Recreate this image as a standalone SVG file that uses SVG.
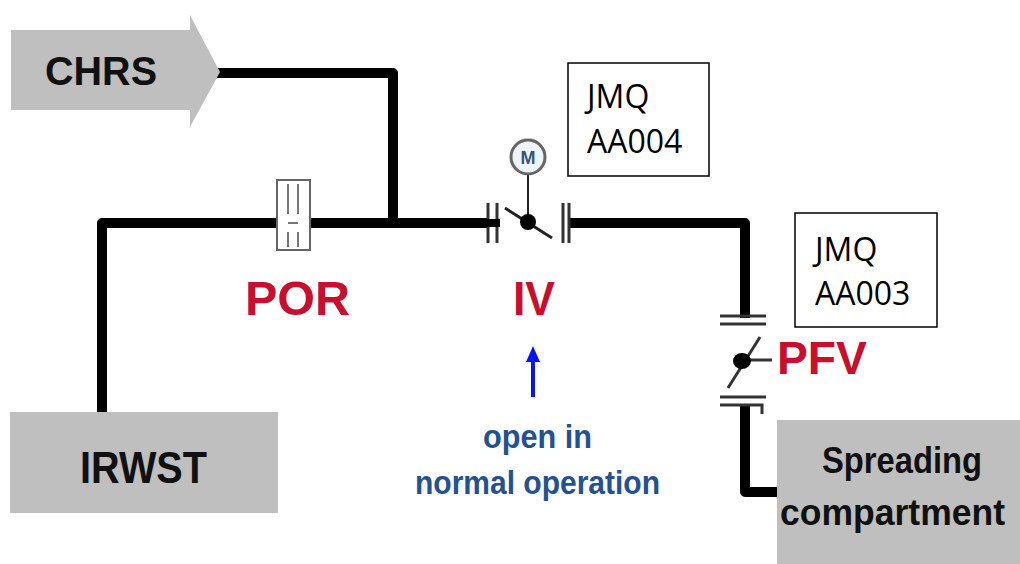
<svg xmlns="http://www.w3.org/2000/svg" width="1020" height="564" viewBox="0 0 1020 564">
<style>
.box{fill:#bfbfbf;}
.pipe{fill:none;stroke:#000;stroke-width:10;stroke-linejoin:round;}
.flange{stroke:#333;stroke-width:3;fill:none;}
.lbl{font-family:"Liberation Sans",Arial,sans-serif;font-weight:bold;fill:#111;}
.red{font-family:"Liberation Sans",Arial,sans-serif;font-weight:bold;fill:#c8102e;}
.note{font-family:"Liberation Sans",Arial,sans-serif;font-weight:bold;fill:#24518f;font-size:33px;}
.tag{font-family:"Open Sans","Liberation Sans",sans-serif;font-size:32px;fill:#000;}
.tagbox{fill:#fff;stroke:#000;stroke-width:1.5;}
</style>
<rect width="1020" height="564" fill="#fff"/>
<g id="connectors">
<path class="pipe" d="M215 73 H393 V223"/>
<path class="pipe" d="M102 412 V223 H487"/>
<path class="pipe" d="M568 223 H745 V318"/>
<path class="pipe" d="M745 405 V492 H780"/>
</g>
<g id="CHRS">
<polygon class="box" points="11,30 190,30 190,15 220,72 190,127 190,110 11,110"/>
<text class="lbl" x="45" y="85" font-size="41" textLength="112" lengthAdjust="spacingAndGlyphs">CHRS</text>
</g>
<g id="IRWST">
<rect class="box" x="10" y="412" width="268" height="101"/>
<text class="lbl" x="80" y="483" font-size="45" textLength="127" lengthAdjust="spacingAndGlyphs">IRWST</text>
</g>
<g id="POR">
<rect x="277" y="180" width="33" height="70" fill="#fff" stroke="#666" stroke-width="2"/>
<path d="M288 184 V214 M288 232 V247 M298 184 V214 M298 232 V247 M288 223 H298" stroke="#777" stroke-width="2" fill="none"/>
<text class="red" x="245" y="315" font-size="49" textLength="105" lengthAdjust="spacingAndGlyphs">POR</text>
</g>
<g id="IV">
<path class="flange" d="M488 203 V243 M497 203 V243 M563 203 V243 M569 203 V243"/>
<line x1="480" y1="223" x2="500" y2="223" stroke="#000" stroke-width="8"/>
<line x1="505" y1="208" x2="552" y2="238" stroke="#222" stroke-width="3"/>
<line x1="528" y1="222" x2="528" y2="173" stroke="#222" stroke-width="2"/>
<circle cx="528" cy="222" r="8" fill="#000"/>
<circle cx="528" cy="157" r="17" fill="#eef4f8" stroke="#666" stroke-width="3"/>
<text x="528" y="164" font-family="Liberation Sans,Arial,sans-serif" font-weight="bold" font-size="18" fill="#35577a" text-anchor="middle">M</text>
<text class="red" x="513" y="315" font-size="49" textLength="42" lengthAdjust="spacingAndGlyphs">IV</text>
</g>
<g id="note">
<line x1="533" y1="397" x2="533" y2="358" stroke="#0a14f0" stroke-width="4"/>
<polygon points="533,346 526,362 540,362" fill="#0a14f0"/>
<text class="note" x="483" y="448" textLength="109" lengthAdjust="spacingAndGlyphs">open in</text>
<text class="note" x="415" y="494" textLength="245" lengthAdjust="spacingAndGlyphs">normal operation</text>
</g>
<g id="PFV">
<path class="flange" d="M720 316 H766 M720 324 H766 M720 397 H766 M720 405 H762 V414"/>
<line x1="728" y1="388" x2="760" y2="337" stroke="#333" stroke-width="3"/>
<line x1="742" y1="360" x2="772" y2="360" stroke="#333" stroke-width="3"/>
<ellipse cx="742" cy="361" rx="9" ry="8" fill="#000"/>
<text class="red" x="777" y="374" font-size="47" textLength="90" lengthAdjust="spacingAndGlyphs">PFV</text>
</g>
<g id="Spreading">
<rect class="box" x="777" y="420" width="243" height="144"/>
<text class="lbl" x="822" y="473" font-size="36" textLength="160" lengthAdjust="spacingAndGlyphs">Spreading</text>
<text class="lbl" x="780" y="525" font-size="36" textLength="225" lengthAdjust="spacingAndGlyphs">compartment</text>
</g>
<g id="JMQAA004">
<rect class="tagbox" x="568" y="63" width="141" height="113"/>
<text class="tag" x="587" y="108">JMQ</text>
<text class="tag" x="587" y="153">AA004</text>
</g>
<g id="JMQAA003">
<rect class="tagbox" x="795" y="213" width="142" height="114"/>
<text class="tag" x="815" y="261">JMQ</text>
<text class="tag" x="815" y="305">AA003</text>
</g>
</svg>
